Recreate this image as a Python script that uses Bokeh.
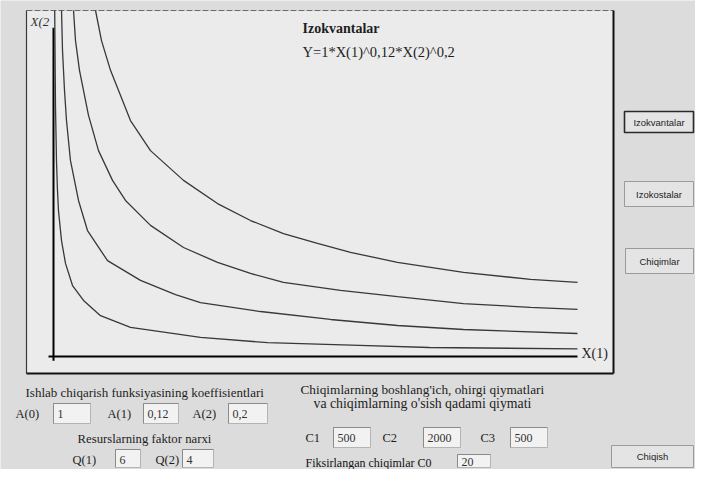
from bokeh.plotting import figure
from bokeh.models import Range1d, ColumnDataSource
from bokeh.core.properties import value
from bokeh.embed import file_html
from bokeh.resources import INLINE

# ---------------- data (isoquants; chart units 0..100) -------------
iso1_x = [0.23, 0.38, 0.57, 0.76, 0.95, 1.53, 2.29, 3.63, 5.73, 8.97, 14.69, 28.05, 40.84, 58.40, 71.76, 100.0]
iso1_y = [100.0, 72.3, 56.6, 48.0, 42.2, 33.5, 26.9, 20.5, 16.2, 11.8, 8.4, 5.5, 4.0, 3.2, 2.6, 2.2]

iso2_x = [1.53, 1.72, 2.10, 2.48, 3.24, 4.77, 6.49, 10.31, 16.60, 23.28, 28.05, 39.50, 52.86, 65.65, 78.24, 100.0]
iso2_y = [100.0, 88.4, 76.9, 68.2, 56.6, 45.1, 36.4, 27.7, 22.0, 17.9, 15.6, 13.0, 10.7, 8.96, 7.80, 6.65]

iso3_x = [3.82, 4.20, 4.96, 6.68, 8.59, 11.26, 13.74, 18.51, 24.81, 31.30, 37.60, 43.89, 54.77, 65.65, 78.24, 91.03, 100.0]
iso3_y = [100.0, 91.3, 82.7, 69.7, 59.5, 50.9, 45.1, 37.9, 31.5, 27.2, 24.0, 21.4, 19.1, 17.3, 15.3, 14.2, 13.6]

iso4_x = [8.02, 9.16, 10.88, 14.69, 18.51, 24.81, 31.30, 37.60, 43.89, 50.38, 56.68, 65.65, 78.24, 91.03, 100.0]
iso4_y = [100.0, 91.3, 82.7, 68.2, 59.5, 50.9, 44.2, 39.3, 35.5, 32.7, 30.1, 27.2, 24.3, 22.3, 21.4]

XMAX, YMAX = 100.0, 100.0

title_text = "Izokvantalar"
formula_text = "Y=1*X(1)^0,12*X(2)^0,2"
x_label, y_label = "X(1)", "X(2"

coef_names = ["A(0)", "A(1)", "A(2)"]
coef_vals = ["1", "0,12", "0,2"]
price_names = ["Q(1)", "Q(2)"]
price_vals = ["6", "4"]
cost_names = ["C1", "C2", "C3"]
cost_vals = ["500", "2000", "500"]
fixed_name, fixed_val = "Fiksirlangan chiqimlar C0", "20"
buttons = ["Izokvantalar", "Izokostalar", "Chiqimlar", "Chiqish"]

# ---------------- layout (picture pixel coordinates) ----------------
W, H = 695, 469
X0, Y0 = 0, 0
ORG_X, ORG_Y = 53, 356        # chart origin
END_X, TOP_Y = 577, 10        # ends of the axes
sx = (END_X - ORG_X) / XMAX
sy = (ORG_Y - TOP_Y) / YMAX

BG = "#dcdcdc"
PANEL = "#ebebeb"
INK = "#1e1e1e"
SERIF = value("Liberation Serif")
SANS = value("Liberation Sans")

p = figure(width=W, height=H, x_range=Range1d(X0, X0 + W), y_range=Range1d(Y0 + H, Y0),
           output_backend="svg", toolbar_location=None, min_border=0,
           x_axis_location=None, y_axis_location=None, outline_line_color=None,
           background_fill_color=BG, border_fill_color=BG)
p.grid.visible = False
p.extra_x_ranges = {"dx": Range1d((X0 - ORG_X) / sx, (X0 + W - ORG_X) / sx)}
p.extra_y_ranges = {"dy": Range1d((ORG_Y - (Y0 + H)) / sy, (ORG_Y - Y0) / sy)}

# chart panel
PL, PR, PT, PB = 26, 613, 10, 373
p.quad(left=[PL], right=[PR], top=[PT], bottom=[PB], fill_color=PANEL, line_color=None)
p.segment(x0=[PL], y0=[PT], x1=[PR], y1=[PT], line_color="#6a6a6a", line_width=1, line_dash="6 2")
p.segment(x0=[PL], y0=[PT], x1=[PL], y1=[PB], line_color="#3a3a3a", line_width=1.2)
p.segment(x0=[PL, PR], y0=[PB, PT], x1=[PR, PR], y1=[PB, PB], line_color="#111111", line_width=2)

# axes (chart units)
p.segment(x0=[-0.95, 0], y0=[0, -1.2], x1=[XMAX, 0], y1=[0, YMAX * 0.95],
          x_range_name="dx", y_range_name="dy", line_color="#000000", line_width=2)

# isoquants
for xs, ys in [(iso1_x, iso1_y), (iso2_x, iso2_y), (iso3_x, iso3_y), (iso4_x, iso4_y)]:
    p.line(xs, ys, x_range_name="dx", y_range_name="dy", line_color="#383838", line_width=1.3)


def put(texts, xs, ys, size, style="normal", font=SERIF, align="left", color=INK):
    src = ColumnDataSource(dict(x=xs, y=ys, t=texts))
    p.text(x="x", y="y", text="t", source=src, text_font=font, text_font_size=size,
           text_font_style=style, text_align=align, text_baseline="middle", text_color=color)


# chart texts
put([title_text], [302], [28], "14px", "bold")
put([formula_text], [302], [51], "14.5px")
put([y_label], [30], [21], "13px", "italic", color="#333333")
put([x_label], [581], [353], "14px")

# input boxes
def box(l, r, t, b):
    p.quad(left=[l], right=[r], top=[t], bottom=[b], fill_color="#f2f2f2", line_color="#b4b4b4", line_width=1)
    p.segment(x0=[l, l], y0=[t, t], x1=[r, l], y1=[t, b], line_color="#8a8a8a", line_width=1)

coef_box = [(53, 90), (143, 178), (228, 267)]
for (l, r) in coef_box:
    box(l, r, 403, 423)
put(coef_names, [15, 107, 192], [413] * 3, "12.5px")
put(coef_vals, [l + 4 for l, r in coef_box], [413] * 3, "12px", color="#333333")

price_box = [(115, 140), (182, 213)]
for (l, r) in price_box:
    box(l, r, 449, 467)
put(price_names, [72, 155], [459] * 2, "12.5px")
put(price_vals, [l + 4 for l, r in price_box], [459] * 2, "12px", color="#333333")

cost_box = [(333, 370), (423, 460), (510, 547)]
for (l, r) in cost_box:
    box(l, r, 427, 447)
put(cost_names, [305, 382, 480], [437] * 3, "12.5px")
put(cost_vals, [l + 4 for l, r in cost_box], [437] * 3, "12px", color="#333333")

box(457, 490, 454, 467)
put([fixed_name], [305], [462], "12px", color="#111111")
put([fixed_val], [461], [461], "12px", color="#333333")

put(["Ishlab chiqarish funksiyasining koeffisientlari"], [25], [392], "13px")
put(["Resurslarning faktor narxi"], [77], [438], "12.75px")
put(["Chiqimlarning boshlang'ich, ohirgi qiymatlari"], [300], [389], "13.3px")
put(["va chiqimlarning o'sish qadami qiymati"], [313], [403], "13.8px")

# buttons
btn_rects = [(624, 693, 111, 132), (624, 693, 181, 206), (625, 693, 248, 273), (611, 693, 445, 467)]
for i, (l, r, t, b) in enumerate(btn_rects):
    p.quad(left=[l], right=[r], top=[t], bottom=[b], fill_color="#e4e4e4",
           line_color="#2a2a2a" if i == 0 else "#9a9a9a", line_width=1.6 if i == 0 else 1)
put(buttons, [(l + r) / 2 for l, r, t, b in btn_rects], [(t + b) / 2 for l, r, t, b in btn_rects],
    "9.5px", font=SANS, align="center")

open("out.html", "w").write(file_html(p, INLINE))
